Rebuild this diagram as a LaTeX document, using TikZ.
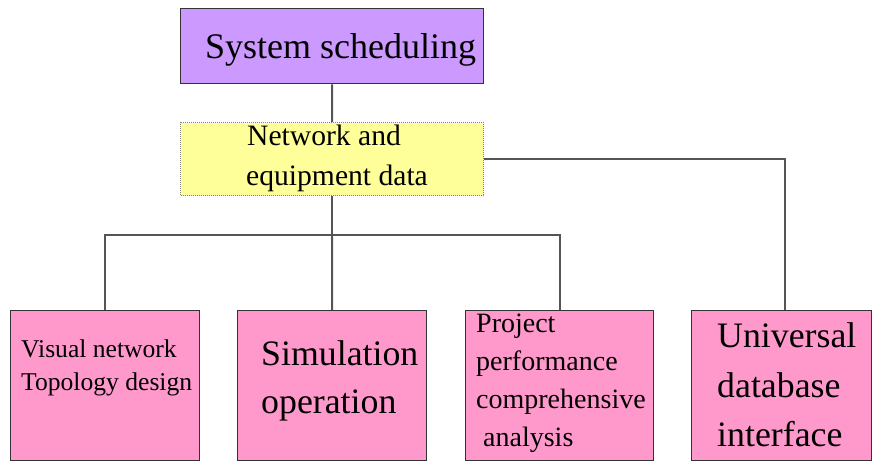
\documentclass[tikz,border=0pt]{standalone}
\usepackage{fontspec}
\setmainfont{Liberation Serif}
\definecolor{sysfill}{HTML}{CC99FF}
\definecolor{datafill}{HTML}{FFFF99}
\definecolor{modfill}{HTML}{FF99CC}
\definecolor{linec}{HTML}{555555}
\begin{document}
\begin{tikzpicture}[x=1pt,y=-1pt,
  box/.style={draw=black!80,line width=1.3pt,rectangle,inner sep=0pt,anchor=north west},
  conn/.style={draw=linec,line width=2pt},
  txt/.style={inner sep=0pt,anchor=base west,text=black}]
\useasboundingbox (0,0) rectangle (872,461);
% boxes
\node[box,fill=sysfill,minimum width=303pt,minimum height=75pt] (sys) at (180,8) {};
\node[box,draw=gray,line width=1pt,densely dotted,fill=datafill,minimum width=303pt,minimum height=73pt] (data) at (180,122) {};
\node[box,fill=modfill,minimum width=189pt,minimum height=149.5pt] (b1) at (10,310) {};
\node[box,fill=modfill,minimum width=189pt,minimum height=149.5pt] (b2) at (237,310) {};
\node[box,fill=modfill,minimum width=188pt,minimum height=149.5pt] (b3) at (465,310) {};
\node[box,fill=modfill,minimum width=180pt,minimum height=149.5pt] (b4) at (691,310) {};
\coordinate (j) at (332,235);
% connectors
\draw[conn] (sys.south) -- (data.north);
\draw[conn] (data.south) -- (j);
\draw[conn] (b1.north) |- (j) -| (b3.north);
\draw[conn] (j) -- (b2.north);
\draw[conn] (data.east) -| ([xshift=3.5pt]b4.north);
% texts
\node[txt,font=\fontsize{36}{40}\selectfont] (t0) at (205,58) {System scheduling};
\node[txt,font=\fontsize{29.6}{32}\selectfont] (t1) at (247,145) {Network and};
\node[txt,font=\fontsize{29.6}{32}\selectfont] (t2) at (246,185) {equipment data};
\node[txt,font=\fontsize{25.6}{30}\selectfont] (t3) at (21,357) {Visual network};
\node[txt,font=\fontsize{25.6}{30}\selectfont] (t4) at (21,390) {Topology design};
\node[txt,font=\fontsize{35.8}{40}\selectfont] (t5) at (261,365) {Simulation};
\node[txt,font=\fontsize{35.8}{40}\selectfont] (t6) at (261,413) {operation};
\node[txt,font=\fontsize{28}{32}\selectfont] (t7) at (476,332) {Project};
\node[txt,font=\fontsize{28}{32}\selectfont] (t8) at (476,370) {performance};
\node[txt,font=\fontsize{28}{32}\selectfont] (t9) at (476,408) {comprehensive};
\node[txt,font=\fontsize{28}{32}\selectfont] (t10) at (483,446) {analysis};
\node[txt,font=\fontsize{35.8}{40}\selectfont] (t11) at (717,347) {Universal};
\node[txt,font=\fontsize{35.8}{40}\selectfont] (t12) at (717,397) {database};
\node[txt,font=\fontsize{35.8}{40}\selectfont] (t13) at (717,446) {interface};
\end{tikzpicture}
\end{document}
